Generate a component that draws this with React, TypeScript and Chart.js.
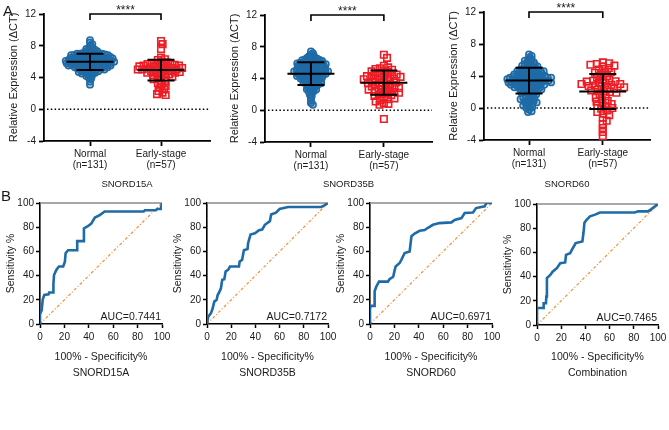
import React, { useEffect, useRef } from 'react';
import { Chart, registerables } from 'chart.js';

Chart.register(...registerables);

const FONT = '"Liberation Sans", Arial, Helvetica, sans-serif';
const BLUE = '#1f6ba7';
const RED = '#ee1c25';
const TEXT = '#1a1a1a';

// ---------------- Panel A: scatter data ----------------
const groupLabels = [['Normal', '(n=131)'], ['Early-stage', '(n=57)']];
const scatterGenes = ['SNORD15A', 'SNORD35B', 'SNORD60'];
const yTicksA = [-4, 0, 4, 8, 12];
const significance = '****';

const snord15aNormal = [
  8.7, 8.4, 8.2, 8.0, 7.8, 7.7, 7.6, 7.5, 7.5, 7.4,
  7.3, 7.3, 7.2, 7.2, 7.1, 7.1, 7.0, 7.0, 7.0, 6.9,
  6.9, 6.9, 6.8, 6.8, 6.8, 6.7, 6.7, 6.7, 6.6, 6.6,
  6.6, 6.6, 6.5, 6.5, 6.5, 6.5, 6.4, 6.4, 6.4, 6.4,
  6.3, 6.3, 6.3, 6.3, 6.2, 6.2, 6.2, 6.2, 6.1, 6.1,
  6.1, 6.1, 6.0, 6.0, 6.0, 6.0, 6.0, 5.9, 5.9, 5.9,
  5.9, 5.8, 5.8, 5.8, 5.8, 5.7, 5.7, 5.7, 5.7, 5.6,
  5.6, 5.6, 5.6, 5.5, 5.5, 5.5, 5.5, 5.4, 5.4, 5.4,
  5.4, 5.3, 5.3, 5.3, 5.2, 5.2, 5.2, 5.1, 5.1, 5.1,
  5.0, 5.0, 5.0, 4.9, 4.9, 4.8, 4.8, 4.7, 4.7, 4.6,
  4.6, 4.5, 4.5, 4.4, 4.3, 4.2, 4.1, 4.0, 3.8, 3.5,
  3.1, 6.95, 6.45, 6.05, 5.95, 5.65, 6.35, 6.15, 5.85, 6.55,
  6.25, 5.45, 6.75, 5.75, 6.85, 5.35, 7.05, 6.65, 5.55, 4.85, 5.15,
];
const snord15aEarly = [
  8.6, 8.2, 7.6, 6.5, 6.3, 6.2, 6.0, 5.9, 5.8, 5.8,
  5.7, 5.7, 5.6, 5.6, 5.5, 5.5, 5.5, 5.4, 5.4, 5.3,
  5.3, 5.2, 5.2, 5.2, 5.1, 5.1, 5.0, 5.0, 5.0, 4.9,
  4.9, 4.8, 4.8, 4.7, 4.7, 4.6, 4.6, 4.5, 4.5, 4.4,
  4.3, 4.2, 4.1, 4.0, 3.9, 3.8, 3.6, 3.5, 3.3, 3.1,
  2.9, 2.7, 2.5, 2.3, 2.1, 1.9, 1.8,
];
const snord35bNormal = [
  7.4, 7.2, 7.0, 6.9, 6.8, 6.7, 6.6, 6.5, 6.5, 6.4,
  6.4, 6.3, 6.3, 6.2, 6.2, 6.1, 6.1, 6.0, 6.0, 6.0,
  5.9, 5.9, 5.9, 5.8, 5.8, 5.8, 5.7, 5.7, 5.7, 5.6,
  5.6, 5.6, 5.5, 5.5, 5.5, 5.4, 5.4, 5.4, 5.3, 5.3,
  5.3, 5.2, 5.2, 5.2, 5.1, 5.1, 5.1, 5.0, 5.0, 5.0,
  4.9, 4.9, 4.9, 4.8, 4.8, 4.8, 4.7, 4.7, 4.7, 4.6,
  4.6, 4.6, 4.5, 4.5, 4.5, 4.4, 4.4, 4.4, 4.3, 4.3,
  4.3, 4.2, 4.2, 4.2, 4.1, 4.1, 4.0, 4.0, 4.0, 3.9,
  3.9, 3.8, 3.8, 3.7, 3.7, 3.6, 3.6, 3.5, 3.5, 3.4,
  3.4, 3.3, 3.3, 3.2, 3.2, 3.1, 3.0, 3.0, 2.9, 2.8,
  2.7, 2.6, 2.5, 2.4, 2.3, 2.2, 2.0, 1.8, 1.5, 1.2,
  0.9, 0.7, 6.65, 6.25, 5.95, 5.65, 5.35, 5.05, 4.75, 4.45,
  4.15, 3.85, 5.75, 5.45, 4.95, 6.05, 3.55, 2.65, 4.65, 5.15, 6.35,
];
const snord35bEarly = [
  7.0, 6.6, 5.6, 5.4, 5.3, 5.2, 5.1, 5.0, 4.9, 4.8,
  4.7, 4.6, 4.5, 4.5, 4.4, 4.3, 4.3, 4.2, 4.1, 4.0,
  4.0, 3.9, 3.8, 3.7, 3.6, 3.5, 3.4, 3.3, 3.2, 3.1,
  3.0, 3.0, 2.9, 2.8, 2.7, 2.6, 2.5, 2.4, 2.3, 2.2,
  2.1, 2.0, 1.9, 1.8, 1.6, 1.5, 1.4, 1.3, 1.1, 0.9,
  0.8, 0.7, 2.6, 3.5, 4.2, 2.3, -1.1,
];
const snord60Normal = [
  6.7, 6.5, 6.3, 6.1, 6.0, 5.9, 5.8, 5.7, 5.6, 5.5,
  5.4, 5.3, 5.2, 5.1, 5.0, 5.0, 4.9, 4.8, 4.8, 4.7,
  4.7, 4.6, 4.6, 4.5, 4.5, 4.4, 4.4, 4.3, 4.3, 4.2,
  4.2, 4.1, 4.1, 4.0, 4.0, 4.0, 3.9, 3.9, 3.9, 3.8,
  3.8, 3.8, 3.7, 3.7, 3.7, 3.6, 3.6, 3.6, 3.5, 3.5,
  3.5, 3.4, 3.4, 3.4, 3.3, 3.3, 3.3, 3.2, 3.2, 3.2,
  3.1, 3.1, 3.1, 3.0, 3.0, 3.0, 2.9, 2.9, 2.8, 2.8,
  2.7, 2.7, 2.6, 2.6, 2.5, 2.5, 2.4, 2.4, 2.3, 2.3,
  2.2, 2.2, 2.1, 2.0, 2.0, 1.9, 1.8, 1.7, 1.6, 1.5,
  1.4, 1.3, 1.2, 1.1, 1.0, 0.9, 0.8, 0.7, 0.6, 0.5,
  0.4, 0.3, 0.2, 0.1, 0.0, -0.2, -0.4, -0.5, 4.25, 3.95,
  3.75, 3.45, 3.25, 4.55, 4.85, 5.25, 2.65, 2.85, 3.05, 3.65,
  4.05, 4.35, 1.85, 1.25, 0.85, 2.45, 5.45, 3.85, 3.35, 2.95, 4.65,
];
const snord60Early = [
  5.7, 5.5, 5.4, 5.2, 5.0, 4.8, 4.6, 4.4, 4.2, 4.0,
  3.8, 3.6, 3.5, 3.4, 3.3, 3.2, 3.1, 3.0, 3.0, 2.9,
  2.8, 2.7, 2.6, 2.5, 2.4, 2.3, 2.2, 2.1, 2.0, 1.9,
  1.7, 1.5, 1.3, 1.1, 0.9, 0.8, 0.6, 0.5, 0.3, 0.2,
  0.0, -0.1, -0.3, -0.5, -0.7, -0.9, -1.2, -1.6, -2.0, -2.5,
  -3.0, -3.5, 5.6, 5.3, 4.5, 3.35, 2.75,
];

// mean and SD (Normal, Early-stage)
const snord15aMean = [5.97, 4.93];
const snord15aSD = [1.03, 1.31];
const snord35bMean = [4.61, 3.48];
const snord35bSD = [1.44, 1.52];
const snord60Mean = [3.43, 2.06];
const snord60SD = [1.61, 2.19];

// ---------------- Panel B: ROC data ----------------
const rocNames = ['SNORD15A', 'SNORD35B', 'SNORD60', 'Combination'];
const aucValues = ['0.7441', '0.7172', '0.6971', '0.7465'];
const rocTicks = [0, 20, 40, 60, 80, 100];

const roc15aFpr = [0, 0, 1.4, 2.2, 3.5, 7, 7.5, 11, 11, 11.5, 13.6, 15.5, 19, 20.4, 21, 23, 30.5, 30.5, 35.4, 36, 39.5, 42, 45, 49, 53, 85, 86, 95, 96, 99, 100];
const roc15aSens = [0, 8, 11.5, 20, 24, 24.5, 26, 26, 33, 40.5, 45, 47.5, 47.5, 51.5, 58.5, 61, 61, 68.5, 68.5, 79, 81, 83, 88, 90, 93, 93, 94, 94, 95, 95, 100];

const roc35bFpr = [0, 1, 3.3, 4.7, 6, 8, 8.8, 10, 11.5, 12.6, 14.3, 15.4, 17.6, 19, 26.4, 27, 29, 30.5, 33.5, 34, 36, 39.6, 43, 45.6, 47.8, 52, 53, 57, 60, 67, 94.5, 97, 100];
const roc35bSens = [0, 6, 9, 13, 18.5, 20, 24, 26, 29.5, 36.5, 37, 43.4, 45, 47.5, 47.5, 51.7, 53, 61, 62, 67, 74, 75, 77.5, 78, 82, 85, 90.5, 92, 95, 96.7, 96.7, 98, 100];

const roc60Fpr = [0, 0, 1, 3.3, 3.8, 3.8, 5.2, 7.4, 14.7, 16, 19, 20, 21, 24.3, 25.7, 28.4, 32.5, 34, 36.6, 40.7, 44.8, 47.5, 51.6, 57, 66.7, 69.4, 75, 77.6, 84.4, 87, 94, 95.4, 100];
const roc60Sens = [0, 13, 15, 15, 20.5, 27, 31, 35, 35, 37, 39, 43.5, 47.6, 50.4, 53, 58.7, 60, 72.6, 74.8, 77, 77.6, 79.5, 82, 83.4, 84, 86, 87.5, 91.7, 92.2, 95.8, 97.2, 100, 100];

const rocCombFpr = [0, 0, 5, 5.5, 7.4, 7.7, 8.2, 11, 12.9, 16.4, 19.2, 23.3, 24, 27.4, 28.8, 32, 37.5, 38.4, 39.2, 41, 43.8, 48, 52, 80.8, 83.6, 91.8, 94.5, 100];
const rocCombSens = [0, 14, 14, 18, 18, 23.5, 38.7, 41.4, 44, 47, 51, 51.7, 58, 59.4, 62, 67.7, 69, 76, 84.5, 87, 89.8, 91.2, 93, 93, 93.9, 93.9, 95.8, 100];

// ---------------- grouping (built from the named arrays) ----------------
const scatterNormal = [snord15aNormal, snord35bNormal, snord60Normal];
const scatterEarly = [snord15aEarly, snord35bEarly, snord60Early];
const scatterMeans = [snord15aMean, snord35bMean, snord60Mean];
const scatterSDs = [snord15aSD, snord35bSD, snord60SD];
const rocFpr = [roc15aFpr, roc35bFpr, roc60Fpr, rocCombFpr];
const rocSens = [roc15aSens, roc35bSens, roc60Sens, rocCombSens];

// ---------------- layout ----------------
const A_W = 220;
const A_H = 195;
const A_AXIS = 44;
const aLayout = [
  { left: 0, plotTop: 14, plotBottom: 141, plotRight: 210, xMin: -0.648, xMax: 1.69, circ: [3.2, 2.3], sq: [4.4, 3.4] },
  { left: 221, plotTop: 15, plotBottom: 142, plotRight: 211, xMin: -0.63, xMax: 1.66, circ: [3.0, 2.1], sq: [4.6, 4.4] },
  { left: 440, plotTop: 12, plotBottom: 140, plotRight: 210, xMin: -0.61, xMax: 1.64, circ: [3.4, 2.5], sq: [6.5, 4.0] },
];
const B_TOP = 190;
const B_W = 185;
const B_H = 195;
const B_AXIS = 40;
const bLayout = [
  { left: 0, plotTop: 13, plotBottom: 134, plotRight: 162 },
  { left: 167, plotTop: 13, plotBottom: 134, plotRight: 161 },
  { left: 330, plotTop: 13, plotBottom: 134, plotRight: 162 },
  { left: 497, plotTop: 14, plotBottom: 135, plotRight: 161 },
];

// beeswarm layout: horizontal pixel offsets so markers do not pile up (elliptical spacing)
function swarm(values: number[], pxPerY: number, dX: number, dY: number): number[] {
  const order = values.map((_, i) => i).sort((a, b) => values[b] - values[a]);
  const placed: { x: number; y: number }[] = [];
  const out = new Array(values.length).fill(0);
  const clash = (p: { x: number; y: number }, x: number, y: number) => {
    const a = (p.x - x) / dX;
    const b = (p.y - y) / dY;
    return a * a + b * b < 1 - 1e-6;
  };
  for (const i of order) {
    const y = values[i] * pxPerY;
    const near = placed.filter((p) => Math.abs(p.y - y) < dY);
    const cands = [0];
    for (const p of near) {
      const b = (p.y - y) / dY;
      const dx = dX * Math.sqrt(Math.max(0, 1 - b * b));
      cands.push(p.x + dx + 0.01, p.x - dx - 0.01);
    }
    cands.sort((a, b) => Math.abs(a) - Math.abs(b));
    let best = 0;
    for (const c of cands) {
      if (!near.some((p) => clash(p, c, y))) {
        best = c;
        break;
      }
    }
    placed.push({ x: best, y });
    out[i] = best;
  }
  return out;
}

function scatterExtras(means: number[], sds: number[]) {
  return {
    id: 'scatterExtras',
    beforeDatasetsDraw(chart: any) {
      const { ctx, chartArea, scales } = chart;
      const y0 = scales.y.getPixelForValue(0);
      ctx.save();
      ctx.strokeStyle = '#000';
      ctx.lineWidth = 1.5;
      ctx.setLineDash([1.5, 2.3]);
      ctx.beginPath();
      ctx.moveTo(chartArea.left + 3, y0);
      ctx.lineTo(chartArea.right, y0);
      ctx.stroke();
      ctx.restore();
    },
    afterDatasetsDraw(chart: any) {
      const { ctx, chartArea, scales } = chart;
      const { x, y } = scales;
      ctx.save();
      ctx.strokeStyle = '#000';
      ctx.lineWidth = 2;
      ctx.lineCap = 'butt';
      for (let g = 0; g < 2; g++) {
        const cx = x.getPixelForValue(g);
        const ym = y.getPixelForValue(means[g]);
        const yt = y.getPixelForValue(means[g] + sds[g]);
        const yb = y.getPixelForValue(means[g] - sds[g]);
        ctx.beginPath();
        ctx.moveTo(cx - 23.5, ym); ctx.lineTo(cx + 23.5, ym);
        ctx.moveTo(cx, yt); ctx.lineTo(cx, yb);
        ctx.moveTo(cx - 13.5, yt); ctx.lineTo(cx + 13.5, yt);
        ctx.moveTo(cx - 13.5, yb); ctx.lineTo(cx + 13.5, yb);
        ctx.stroke();
      }
      // significance bracket
      const x0 = x.getPixelForValue(0);
      const x1 = x.getPixelForValue(1);
      const top = chartArea.top;
      ctx.lineWidth = 1.6;
      ctx.beginPath();
      ctx.moveTo(x0, top + 6); ctx.lineTo(x0, top); ctx.lineTo(x1, top); ctx.lineTo(x1, top + 6);
      ctx.stroke();
      ctx.fillStyle = TEXT;
      ctx.font = `12px ${FONT}`;
      ctx.textAlign = 'center';
      ctx.textBaseline = 'alphabetic';
      ctx.fillText(significance, (x0 + x1) / 2, top - 0.5);
      ctx.restore();
    },
  };
}

function makeScatter(i: number) {
  const L = aLayout[i];
  const normal = scatterNormal[i];
  const early = scatterEarly[i];
  const pxPerCat = (L.plotRight - A_AXIS) / (L.xMax - L.xMin);
  const pxPerY = (L.plotBottom - L.plotTop) / 16;
  const offN = swarm(normal, pxPerY, L.circ[0], L.circ[1]);
  const offE = swarm(early, pxPerY, L.sq[0], L.sq[1]);
  const tickFont = { family: FONT, size: 10, lineHeight: 1.1 };
  return {
    type: 'scatter',
    data: {
      datasets: [
        {
          data: normal.map((v, k) => ({ x: offN[k] / pxPerCat, y: v })),
          pointStyle: 'circle',
          pointRadius: 3.2,
          borderColor: BLUE,
          backgroundColor: 'rgba(31,107,167,0.35)',
          borderWidth: 1.5,
        },
        {
          data: early.map((v, k) => ({ x: 1 + offE[k] / pxPerCat, y: v })),
          pointStyle: 'rect',
          pointRadius: 4.6,
          borderColor: RED,
          backgroundColor: 'rgba(255,255,255,0)',
          borderWidth: 1.6,
        },
      ],
    },
    options: {
      responsive: false,
      animation: false,
      devicePixelRatio: 1,
      events: [],
      layout: { padding: { left: 0, top: L.plotTop, right: A_W - L.plotRight, bottom: 0 } },
      plugins: { legend: { display: false }, tooltip: { enabled: false } },
      scales: {
        x: {
          type: 'linear',
          min: L.xMin,
          max: L.xMax,
          afterBuildTicks: (s: any) => { s.ticks = [{ value: 0 }, { value: 1 }]; },
          afterFit: (s: any) => { s.height = A_H - L.plotBottom; },
          ticks: { callback: (v: number) => groupLabels[v], color: TEXT, font: tickFont, padding: 3, maxRotation: 0, autoSkip: false },
          grid: { drawOnChartArea: false, tickLength: 5, tickWidth: 1.8, tickColor: '#000' },
          border: { color: '#000', width: 1.8 },
          title: { display: true, text: scatterGenes[i], color: TEXT, font: { family: FONT, size: 9.5 }, padding: { top: 0, bottom: 5 } },
        },
        y: {
          min: -4,
          max: 12,
          afterBuildTicks: (s: any) => { s.ticks = yTicksA.map((value) => ({ value })); },
          afterFit: (s: any) => { s.width = A_AXIS; },
          ticks: { color: TEXT, font: { family: FONT, size: 10 }, padding: 3 },
          grid: { drawOnChartArea: false, tickLength: 5, tickWidth: 1.8, tickColor: '#000' },
          border: { color: '#000', width: 1.8 },
          title: { display: true, text: 'Relative Expression (\u0394CT)', color: TEXT, font: { family: FONT, size: 11 }, padding: { top: 7, bottom: 0 } },
        },
      },
    },
    plugins: [scatterExtras(scatterMeans[i], scatterSDs[i])],
  };
}

function rocExtras(auc: string) {
  return {
    id: 'rocExtras',
    beforeDatasetsDraw(chart: any) {
      const { ctx, chartArea } = chart;
      ctx.save();
      ctx.strokeStyle = '#8a8a8a';
      ctx.lineWidth = 1.6;
      ctx.beginPath();
      ctx.moveTo(chartArea.left, chartArea.top);
      ctx.lineTo(chartArea.right, chartArea.top);
      ctx.stroke();
      ctx.restore();
    },
    afterDraw(chart: any) {
      const { ctx, chartArea } = chart;
      ctx.save();
      ctx.fillStyle = TEXT;
      ctx.font = `10.5px ${FONT}`;
      ctx.textAlign = 'right';
      ctx.textBaseline = 'alphabetic';
      ctx.fillText('AUC=' + auc, chartArea.right - 1, chartArea.bottom - 4);
      ctx.restore();
    },
  };
}

function makeRoc(i: number) {
  const L = bLayout[i];
  const fpr = rocFpr[i];
  const sens = rocSens[i];
  const tickFont = { family: FONT, size: 10 };
  const axisCommon = {
    min: 0,
    max: 100,
    afterBuildTicks: (s: any) => { s.ticks = rocTicks.map((value) => ({ value })); },
    ticks: { color: TEXT, font: tickFont, padding: 2 },
    grid: { drawOnChartArea: false, tickLength: 4, tickWidth: 1.5, tickColor: '#000' },
    border: { color: '#000', width: 1.6 },
  };
  return {
    type: 'scatter',
    data: {
      datasets: [
        {
          data: fpr.map((x, k) => ({ x, y: sens[k] })),
          showLine: true,
          borderColor: BLUE,
          backgroundColor: BLUE,
          borderWidth: 2.6,
          pointRadius: 0,
          tension: 0,
        },
        {
          data: [{ x: 0, y: 0 }, { x: 100, y: 100 }],
          showLine: true,
          borderColor: '#f0903c',
          borderWidth: 1.2,
          borderDash: [3, 2, 1, 2],
          pointRadius: 0,
        },
      ],
    },
    options: {
      responsive: false,
      animation: false,
      devicePixelRatio: 1,
      events: [],
      layout: { padding: { left: 0, top: L.plotTop, right: B_W - L.plotRight, bottom: 0 } },
      plugins: { legend: { display: false }, tooltip: { enabled: false } },
      scales: {
        x: {
          type: 'linear',
          ...axisCommon,
          afterFit: (s: any) => { s.height = B_H - L.plotBottom; },
          ticks: { ...axisCommon.ticks, padding: 3, maxRotation: 0 },
          title: {
            display: true,
            text: ['100% - Specificity%', rocNames[i]],
            color: TEXT,
            font: { family: FONT, size: 10.5, lineHeight: 1.5 },
            padding: { top: 0, bottom: 4 },
          },
        },
        y: {
          type: 'linear',
          ...axisCommon,
          afterFit: (s: any) => { s.width = B_AXIS; },
          title: { display: true, text: 'Sensitivity %', color: TEXT, font: { family: FONT, size: 10.5 }, padding: { top: 5, bottom: 0 } },
        },
      },
    },
    plugins: [rocExtras(aucValues[i])],
  };
}

function ChartBox(props: { left: number; top: number; width: number; height: number; make: () => any }) {
  const ref = useRef<HTMLCanvasElement>(null);
  useEffect(() => {
    const chart = new Chart(ref.current as HTMLCanvasElement, props.make());
    return () => chart.destroy();
  }, []);
  return (
    <canvas
      ref={ref}
      width={props.width}
      height={props.height}
      style={{ position: 'absolute', left: props.left, top: props.top, width: props.width, height: props.height }}
    />
  );
}

const letterStyle: React.CSSProperties = {
  position: 'absolute',
  fontFamily: FONT,
  fontSize: 15,
  lineHeight: '15px',
  color: TEXT,
};

export default function App() {
  return (
    <div style={{ position: 'fixed', left: 0, top: 0, width: 669, height: 430, background: '#fff', overflow: 'hidden' }}>
      {aLayout.map((L, i) => (
        <ChartBox key={'a' + i} left={L.left} top={0} width={A_W} height={A_H} make={() => makeScatter(i)} />
      ))}
      {bLayout.map((L, i) => (
        <ChartBox key={'b' + i} left={L.left} top={B_TOP} width={B_W} height={B_H} make={() => makeRoc(i)} />
      ))}
      <div style={{ ...letterStyle, left: 3, top: 3 }}>A</div>
      <div style={{ ...letterStyle, left: 1, top: 188 }}>B</div>
    </div>
  );
}
